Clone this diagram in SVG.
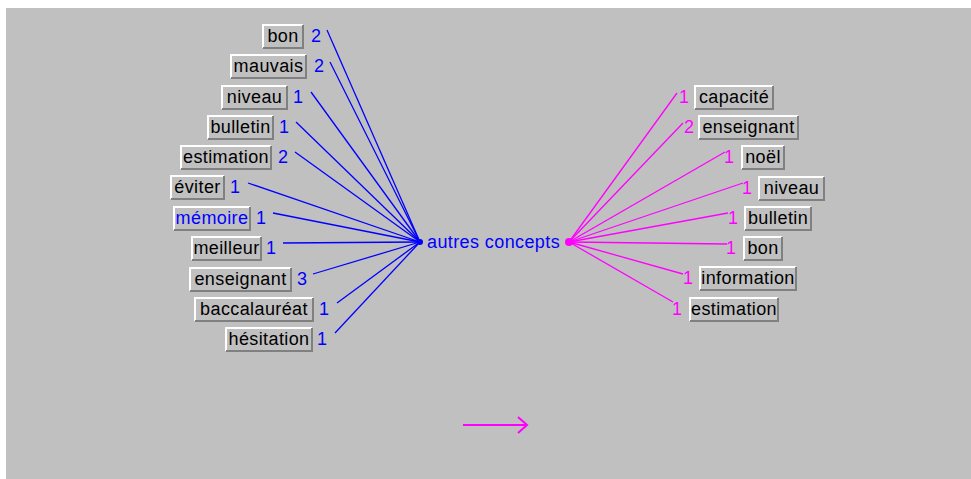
<svg xmlns="http://www.w3.org/2000/svg" width="971" height="479" viewBox="0 0 971 479">
<style>
text{font-family:"Liberation Sans",Arial,sans-serif;font-size:18px;letter-spacing:0.4px}
.lbl{fill:#000;text-anchor:middle}
.bl{fill:#0000ff}
.mg{fill:#ff00ff}
.face{fill:#c0c0c0}
.hl{fill:none;stroke:#ffffff;stroke-width:2}
.sh{fill:none;stroke:#808080;stroke-width:2}
.cb{stroke:#0000ff;stroke-width:1.3;fill:none}
.cm{stroke:#ff00ff;stroke-width:1.3;fill:none}
</style>
<defs>
<marker id="chev" markerWidth="12" markerHeight="18" refX="10" refY="9" orient="auto" markerUnits="userSpaceOnUse">
<polyline points="1,1 10,9 1,17" fill="none" stroke="#ff00ff" stroke-width="2"/>
</marker>
</defs>
<rect x="0" y="0" width="971" height="479" fill="#ffffff"/>
<rect x="6" y="8" width="965" height="471" fill="#c0c0c0"/>

<g id="connectors">
<line class="cb" x1="327" y1="30" x2="420" y2="242"/>
<line class="cb" x1="330" y1="62" x2="420" y2="242"/>
<line class="cb" x1="311" y1="92" x2="420" y2="242"/>
<line class="cb" x1="296" y1="122" x2="420" y2="242"/>
<line class="cb" x1="295" y1="152" x2="420" y2="242"/>
<line class="cb" x1="248" y1="183" x2="420" y2="242"/>
<line class="cb" x1="273" y1="213" x2="420" y2="242"/>
<line class="cb" x1="283" y1="243" x2="420" y2="242"/>
<line class="cb" x1="313" y1="274" x2="420" y2="242"/>
<line class="cb" x1="337" y1="303" x2="420" y2="242"/>
<line class="cb" x1="335" y1="333" x2="420" y2="242"/>
<line class="cm" x1="569" y1="242" x2="677" y2="93"/>
<line class="cm" x1="569" y1="242" x2="683" y2="123"/>
<line class="cm" x1="569" y1="242" x2="725" y2="152"/>
<line class="cm" x1="569" y1="242" x2="743" y2="183"/>
<line class="cm" x1="569" y1="242" x2="728" y2="213"/>
<line class="cm" x1="569" y1="242" x2="727" y2="244"/>
<line class="cm" x1="569" y1="242" x2="683" y2="274"/>
<line class="cm" x1="569" y1="242" x2="673" y2="302"/>
<circle cx="420" cy="242" r="3" fill="#0000ff"/>
<circle cx="569" cy="242" r="4" fill="#ff00ff"/>
<line x1="463" y1="425" x2="527" y2="425" stroke="#ff00ff" stroke-width="2" marker-end="url(#chev)"/>
</g>

<g id="hub">
<text class="bl" x="427" y="248">autres concepts</text>
</g>

<g id="l-bon"><rect class="face" x="262" y="24" width="42" height="25"/><polyline class="hl" points="263,48 263,25 303,25"/><polyline class="sh" points="263,48 303,48 303,25"/><text class="lbl" x="283" y="42">bon</text><text class="bl" x="311" y="42">2</text></g>
<g id="l-mauvais"><rect class="face" x="230" y="54" width="77" height="25"/><polyline class="hl" points="231,78 231,55 306,55"/><polyline class="sh" points="231,78 306,78 306,55"/><text class="lbl" x="268.5" y="72">mauvais</text><text class="bl" x="314" y="72">2</text></g>
<g id="l-niveau"><rect class="face" x="221" y="85" width="67" height="25"/><polyline class="hl" points="222,109 222,86 287,86"/><polyline class="sh" points="222,109 287,109 287,86"/><text class="lbl" x="254.5" y="103">niveau</text><text class="bl" x="293" y="103">1</text></g>
<g id="l-bulletin"><rect class="face" x="207" y="115" width="67" height="25"/><polyline class="hl" points="208,139 208,116 273,116"/><polyline class="sh" points="208,139 273,139 273,116"/><text class="lbl" x="240.5" y="133">bulletin</text><text class="bl" x="279" y="133">1</text></g>
<g id="l-estimation"><rect class="face" x="180" y="145" width="92" height="25"/><polyline class="hl" points="181,169 181,146 271,146"/><polyline class="sh" points="181,169 271,169 271,146"/><text class="lbl" x="226" y="163">estimation</text><text class="bl" x="278" y="163">2</text></g>
<g id="l-eviter"><rect class="face" x="170" y="175" width="55" height="25"/><polyline class="hl" points="171,199 171,176 224,176"/><polyline class="sh" points="171,199 224,199 224,176"/><text class="lbl" x="197.5" y="193">éviter</text><text class="bl" x="230" y="193">1</text></g>
<g id="l-memoire"><rect class="face" x="173" y="206" width="78" height="25"/><polyline class="hl" points="174,230 174,207 250,207"/><polyline class="sh" points="174,230 250,230 250,207"/><text class="lbl bl" x="212" y="224">mémoire</text><text class="bl" x="256" y="224">1</text></g>
<g id="l-meilleur"><rect class="face" x="191" y="236" width="71" height="25"/><polyline class="hl" points="192,260 192,237 261,237"/><polyline class="sh" points="192,260 261,260 261,237"/><text class="lbl" x="226.5" y="254">meilleur</text><text class="bl" x="266" y="254">1</text></g>
<g id="l-enseignant"><rect class="face" x="189" y="267" width="103" height="25"/><polyline class="hl" points="190,291 190,268 291,268"/><polyline class="sh" points="190,291 291,291 291,268"/><text class="lbl" x="240.5" y="285">enseignant</text><text class="bl" x="297" y="285">3</text></g>
<g id="l-baccalaureat"><rect class="face" x="194" y="297" width="120" height="25"/><polyline class="hl" points="195,321 195,298 313,298"/><polyline class="sh" points="195,321 313,321 313,298"/><text class="lbl" x="254" y="315">baccalauréat</text><text class="bl" x="319" y="315">1</text></g>
<g id="l-hesitation"><rect class="face" x="225" y="327" width="88" height="25"/><polyline class="hl" points="226,351 226,328 312,328"/><polyline class="sh" points="226,351 312,351 312,328"/><text class="lbl" x="269" y="345">hésitation</text><text class="bl" x="317" y="345">1</text></g>

<g id="r-capacite"><rect class="face" x="694" y="85" width="80" height="25"/><polyline class="hl" points="695,109 695,86 773,86"/><polyline class="sh" points="695,109 773,109 773,86"/><text class="lbl" x="734" y="103">capacité</text><text class="mg" x="679" y="103">1</text></g>
<g id="r-enseignant"><rect class="face" x="698" y="115" width="101" height="25"/><polyline class="hl" points="699,139 699,116 798,116"/><polyline class="sh" points="699,139 798,139 798,116"/><text class="lbl" x="748.5" y="133">enseignant</text><text class="mg" x="684" y="133">2</text></g>
<g id="r-noel"><rect class="face" x="741" y="145" width="44" height="25"/><polyline class="hl" points="742,169 742,146 784,146"/><polyline class="sh" points="742,169 784,169 784,146"/><text class="lbl" x="763" y="163">noël</text><text class="mg" x="724" y="163">1</text></g>
<g id="r-niveau"><rect class="face" x="758" y="176" width="67" height="25"/><polyline class="hl" points="759,200 759,177 824,177"/><polyline class="sh" points="759,200 824,200 824,177"/><text class="lbl" x="791.5" y="194">niveau</text><text class="mg" x="742" y="194">1</text></g>
<g id="r-bulletin"><rect class="face" x="744" y="206" width="68" height="25"/><polyline class="hl" points="745,230 745,207 811,207"/><polyline class="sh" points="745,230 811,230 811,207"/><text class="lbl" x="778" y="224">bulletin</text><text class="mg" x="728" y="224">1</text></g>
<g id="r-bon"><rect class="face" x="743" y="236" width="40" height="25"/><polyline class="hl" points="744,260 744,237 782,237"/><polyline class="sh" points="744,260 782,260 782,237"/><text class="lbl" x="763" y="254">bon</text><text class="mg" x="726" y="254">1</text></g>
<g id="r-information"><rect class="face" x="699" y="266" width="98" height="25"/><polyline class="hl" points="700,290 700,267 796,267"/><polyline class="sh" points="700,290 796,290 796,267"/><text class="lbl" x="748" y="284">information</text><text class="mg" x="683" y="284">1</text></g>
<g id="r-estimation"><rect class="face" x="689" y="297" width="90" height="25"/><polyline class="hl" points="690,321 690,298 778,298"/><polyline class="sh" points="690,321 778,321 778,298"/><text class="lbl" x="734" y="315">estimation</text><text class="mg" x="672" y="315">1</text></g>
</svg>
